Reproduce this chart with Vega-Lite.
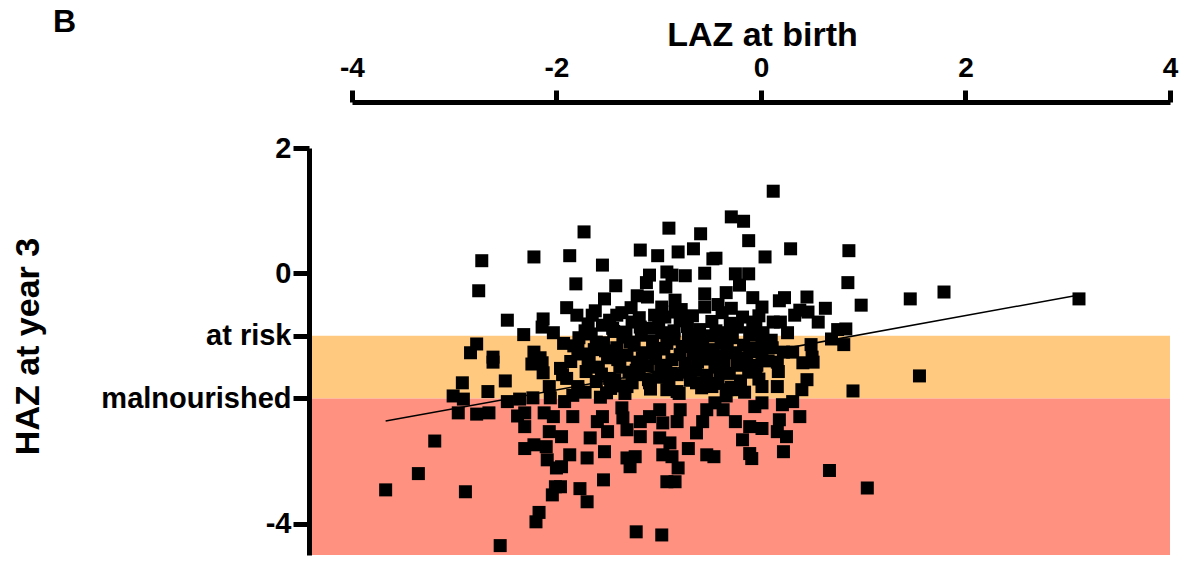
{
  "$schema": "https://vega.github.io/schema/vega-lite/v6.json",
  "autosize": {"type": "none"},
  "padding": {"left": 311, "top": 148, "right": 12, "bottom": 6},
  "width": 859,
  "height": 407,
  "background": "white",
  "config": {
    "view": {"stroke": null},
    "font": "Liberation Sans",
    "axis": {"grid": false, "domainColor": "black", "tickColor": "black", "labelColor": "black", "titleColor": "black", "labelFont": "Liberation Sans", "titleFont": "Liberation Sans", "labelFontWeight": "bold", "titleFontWeight": "bold", "labelLimit": 0}
  },
  "title": {"text": "B", "anchor": "start", "frame": "group", "fontSize": 32, "fontWeight": "bold", "font": "Liberation Sans", "color": "black", "dx": -258, "dy": 21, "offset": 0},
  "layer": [
    {
      "data": {"values": [
        {"zone": "at risk", "y": -1, "y2": -2},
        {"zone": "malnourished", "y": -2, "y2": -4.5}
      ]},
      "mark": {"type": "rect"},
      "encoding": {
        "x": {"datum": -4.4, "type": "quantitative"},
        "x2": {"datum": 4},
        "y": {"field": "y", "type": "quantitative"},
        "y2": {"field": "y2"},
        "color": {"field": "zone", "type": "nominal", "scale": {"domain": ["at risk", "malnourished"], "range": ["#FFC980", "#FF9180"]}, "legend": null}
      }
    },
    {
      "data": {"values": [
        {"x":-2.73,"y":0.20},{"x":-2.22,"y":0.26},{"x":-2.76,"y":-0.28},{"x":-2.48,"y":-0.75},{"x":-2.13,"y":-0.73},{"x":-2.14,"y":-0.86},{"x":-2.32,"y":-0.98},{"x":-2.03,"y":-0.95},{"x":-2.78,"y":-1.13},{"x":-2.84,"y":-1.27},{"x":-2.62,"y":-1.34},{"x":-2.22,"y":-1.26},{"x":-2.16,"y":-1.35},
        {"x":-1.73,"y":0.66},{"x":-0.90,"y":0.72},{"x":-0.29,"y":0.90},{"x":-0.17,"y":0.83},{"x":-0.59,"y":0.63},{"x":-0.12,"y":0.52},{"x":-1.87,"y":0.28},{"x":-1.55,"y":0.13},{"x":-1.18,"y":0.37},{"x":-1.01,"y":0.28},{"x":-0.81,"y":0.34},{"x":-0.66,"y":0.39},{"x":-0.47,"y":0.23},{"x":-0.44,"y":0.24},
        {"x":-1.81,"y":-0.17},{"x":-1.42,"y":-0.20},{"x":-1.09,"y":-0.03},{"x":-0.92,"y":0.02},{"x":-0.87,"y":-0.03},{"x":-0.74,"y":-0.04},{"x":-0.55,"y":0.00},{"x":-0.25,"y":-0.01},{"x":-0.12,"y":-0.01},{"x":-1.12,"y":-0.15},{"x":-1.21,"y":-0.36},{"x":-0.93,"y":-0.22},{"x":-1.53,"y":-0.41},{"x":-1.11,"y":-0.38},{"x":-0.84,"y":-0.43},{"x":-0.55,"y":-0.33},{"x":-0.55,"y":-0.54},{"x":-0.34,"y":-0.31},{"x":-0.21,"y":-0.19},{"x":-0.08,"y":-0.39},
        {"x":-1.90,"y":-0.55},{"x":-1.80,"y":-0.67},{"x":-1.65,"y":-0.67},{"x":-1.69,"y":-0.81},{"x":-1.36,"y":-0.63},{"x":-1.41,"y":-0.67},{"x":-0.97,"y":-0.54},{"x":-0.84,"y":-0.62},{"x":-1.19,"y":-0.71},{"x":-1.04,"y":-0.67},{"x":-0.38,"y":-0.63},{"x":-0.29,"y":-0.56},{"x":-0.79,"y":-0.76},{"x":-1.55,"y":-0.83},{"x":-1.32,"y":-0.94},{"x":-1.18,"y":-0.86},{"x":-1.00,"y":-0.79},{"x":-0.85,"y":-0.92},{"x":-0.63,"y":-1.02},{"x":-0.33,"y":-0.95},{"x":-0.23,"y":-0.86},{"x":-0.08,"y":-0.78},{"x":-0.11,"y":-0.95},{"x":-1.61,"y":-1.10},{"x":-1.79,"y":-1.22},
        {"x":0.12,"y":1.31},{"x":0.29,"y":0.39},{"x":0.04,"y":0.26},{"x":0.86,"y":0.36},{"x":0.85,"y":-0.15},{"x":0.98,"y":-0.51},{"x":1.46,"y":-0.41},{"x":1.79,"y":-0.30},{"x":0.01,"y":-0.54},{"x":0.18,"y":-0.44},{"x":0.23,"y":-0.39},{"x":0.45,"y":-0.38},{"x":0.63,"y":-0.56},{"x":0.33,"y":-0.67},{"x":0.38,"y":-0.59},{"x":0.46,"y":-0.62},{"x":0.12,"y":-0.78},{"x":0.19,"y":-0.78},{"x":0.56,"y":-0.78},{"x":0.26,"y":-0.95},{"x":0.02,"y":-0.95},{"x":0.01,"y":-1.11},{"x":0.75,"y":-0.90},{"x":0.83,"y":-0.89},{"x":0.69,"y":-1.05},{"x":0.81,"y":-1.14},{"x":0.49,"y":-1.14},{"x":0.11,"y":-1.19},{"x":0.22,"y":-1.26},{"x":0.31,"y":-1.26},{"x":0.50,"y":-1.34},{"x":3.11,"y":-0.41},
        {"x":-2.62,"y":-1.42},{"x":-2.24,"y":-1.45},{"x":-2.14,"y":-1.43},{"x":-2.13,"y":-1.59},{"x":-2.92,"y":-1.75},{"x":-2.50,"y":-1.72},{"x":-2.07,"y":-1.81},{"x":-2.06,"y":-1.99},{"x":-2.67,"y":-1.89},{"x":-3.01,"y":-1.96},{"x":-2.91,"y":-2.01},{"x":-2.36,"y":-2.01},{"x":-2.23,"y":-1.99},{"x":-2.48,"y":-2.05},{"x":-2.96,"y":-2.23},{"x":-2.78,"y":-2.25},{"x":-2.66,"y":-2.23},{"x":-2.38,"y":-2.28},{"x":-2.31,"y":-2.23},{"x":-2.12,"y":-2.23},{"x":-2.03,"y":-2.29},{"x":-2.31,"y":-2.45},{"x":-2.07,"y":-2.53},{"x":-3.19,"y":-2.68},{"x":-2.31,"y":-2.80},{"x":-2.22,"y":-2.74},{"x":-2.10,"y":-2.77},{"x":-2.09,"y":-2.98},{"x":-2.00,"y":-3.11},{"x":-3.35,"y":-3.20},{"x":-3.67,"y":-3.46},{"x":-2.89,"y":-3.49},{"x":-2.04,"y":-3.54},{"x":-2.01,"y":-3.41},{"x":-2.17,"y":-3.82},{"x":-2.20,"y":-3.97},{"x":-2.55,"y":-4.35},
        {"x":-1.94,"y":-1.62},{"x":-1.79,"y":-1.86},{"x":-1.51,"y":-1.91},{"x":-1.31,"y":-1.81},{"x":-1.09,"y":-1.75},{"x":-0.92,"y":-1.86},{"x":-0.82,"y":-1.89},{"x":-0.63,"y":-1.75},{"x":-0.48,"y":-1.81},{"x":-0.33,"y":-1.86},{"x":-0.21,"y":-1.86},{"x":-1.92,"y":-2.05},{"x":-1.84,"y":-2.29},{"x":-1.60,"y":-2.37},{"x":-1.55,"y":-2.29},{"x":-1.36,"y":-2.15},{"x":-1.35,"y":-2.31},{"x":-1.31,"y":-2.50},{"x":-1.18,"y":-2.37},{"x":-1.18,"y":-2.61},{"x":-1.09,"y":-2.29},{"x":-0.99,"y":-2.18},{"x":-0.96,"y":-2.39},{"x":-0.99,"y":-2.63},{"x":-0.82,"y":-2.37},{"x":-0.89,"y":-2.71},{"x":-0.79,"y":-2.18},{"x":-0.63,"y":-2.55},{"x":-0.53,"y":-2.18},{"x":-0.57,"y":-2.37},{"x":-0.45,"y":-2.07},{"x":-0.37,"y":-2.18},{"x":-0.25,"y":-2.37},{"x":-0.18,"y":-2.66},{"x":-0.06,"y":-2.13},{"x":-0.11,"y":-2.45},
        {"x":-1.95,"y":-2.61},{"x":-1.67,"y":-2.63},{"x":-1.50,"y":-2.53},{"x":-1.87,"y":-2.90},{"x":-1.70,"y":-2.95},{"x":-1.53,"y":-2.85},{"x":-1.31,"y":-2.95},{"x":-1.23,"y":-2.93},{"x":-1.28,"y":-3.09},{"x":-0.96,"y":-2.90},{"x":-0.87,"y":-2.93},{"x":-0.71,"y":-2.80},{"x":-0.53,"y":-2.90},{"x":-0.46,"y":-2.93},{"x":-0.11,"y":-2.88},{"x":-0.09,"y":-2.96},{"x":-1.95,"y":-3.09},{"x":-0.81,"y":-3.11},{"x":-0.92,"y":-3.33},{"x":-0.84,"y":-3.33},{"x":-1.54,"y":-3.30},{"x":-1.96,"y":-3.41},{"x":-1.77,"y":-3.44},{"x":-1.70,"y":-3.65},{"x":-1.22,"y":-4.13},{"x":-0.97,"y":-4.18},
        {"x":0.16,"y":-1.42},{"x":0.41,"y":-1.43},{"x":0.51,"y":-1.42},{"x":0.17,"y":-1.57},{"x":0.01,"y":-1.81},{"x":0.16,"y":-1.81},{"x":0.45,"y":-1.70},{"x":0.40,"y":-1.86},{"x":0.90,"y":-1.88},{"x":1.55,"y":-1.64},{"x":0.01,"y":-2.07},{"x":0.21,"y":-2.10},{"x":0.31,"y":-2.05},{"x":0.38,"y":-2.29},{"x":0.18,"y":-2.34},{"x":0.01,"y":-2.48},{"x":0.16,"y":-2.53},{"x":0.25,"y":-2.61},{"x":0.22,"y":-2.85},{"x":0.67,"y":-3.15},{"x":1.04,"y":-3.43},
        {"x":-1.93,"y":-1.12},{"x":-1.86,"y":-1.41},{"x":-1.90,"y":-1.68},{"x":-1.84,"y":-1.95},{"x":-1.78,"y":-1.03},{"x":-1.75,"y":-1.29},{"x":-1.71,"y":-1.57},{"x":-1.79,"y":-1.81},{"x":-1.66,"y":-0.97},{"x":-1.63,"y":-1.22},{"x":-1.69,"y":-1.44},{"x":-1.61,"y":-1.73},{"x":-1.57,"y":-1.98},{"x":-1.54,"y":-1.11},{"x":-1.50,"y":-1.35},{"x":-1.56,"y":-1.61},{"x":-1.47,"y":-1.84},{"x":-1.44,"y":-0.93},{"x":-1.41,"y":-1.19},{"x":-1.38,"y":-1.50},{"x":-1.43,"y":-1.70},{"x":-1.35,"y":-1.02},{"x":-1.31,"y":-1.31},{"x":-1.29,"y":-1.58},{"x":-1.33,"y":-1.92},{"x":-1.24,"y":-1.15},{"x":-1.21,"y":-1.42},{"x":-1.26,"y":-1.75},{"x":-1.17,"y":-0.99},{"x":-1.14,"y":-1.27},{"x":-1.19,"y":-1.62},{"x":-1.11,"y":-1.48},{"x":-1.08,"y":-1.85},{"x":-1.06,"y":-1.09},{"x":-1.03,"y":-1.36},{"x":-1.00,"y":-1.66},{"x":-0.97,"y":-0.95},{"x":-0.95,"y":-1.21},{"x":-0.93,"y":-1.53},{"x":-0.90,"y":-1.78},{"x":-0.87,"y":-1.38},{"x":-0.85,"y":-1.05},{"x":-0.82,"y":-1.62},{"x":-0.80,"y":-1.92},{"x":-0.77,"y":-1.17},{"x":-0.74,"y":-1.44},{"x":-0.71,"y":-0.98},{"x":-0.69,"y":-1.71},{"x":-0.66,"y":-1.28},{"x":-0.64,"y":-1.55},{"x":-0.61,"y":-1.08},{"x":-0.58,"y":-1.83},{"x":-0.55,"y":-1.37},{"x":-0.53,"y":-1.63},{"x":-0.50,"y":-1.00},{"x":-0.47,"y":-1.22},{"x":-0.45,"y":-1.50},{"x":-0.42,"y":-1.76},{"x":-0.39,"y":-1.12},{"x":-0.36,"y":-1.40},{"x":-0.34,"y":-1.96},{"x":-0.31,"y":-1.60},{"x":-0.28,"y":-1.03},{"x":-0.25,"y":-1.27},{"x":-0.23,"y":-1.47},{"x":-0.20,"y":-1.72},{"x":-0.17,"y":-1.15},{"x":-0.14,"y":-1.39},{"x":-0.12,"y":-1.58},{"x":-0.09,"y":-0.99},{"x":-0.06,"y":-1.25},{"x":-0.04,"y":-1.47},{"x":-0.02,"y":-1.69},{"x":0.03,"y":-1.18},{"x":0.07,"y":-1.40},{"x":0.10,"y":-1.07},
        {"x":-1.96,"y":-1.52},{"x":-1.83,"y":-1.16},{"x":-1.72,"y":-1.90},{"x":-1.68,"y":-1.33},{"x":-1.59,"y":-1.50},{"x":-1.52,"y":-1.24},{"x":-1.48,"y":-1.68},{"x":-1.40,"y":-1.38},{"x":-1.36,"y":-1.80},{"x":-1.28,"y":-1.10},{"x":-1.22,"y":-1.55},{"x":-1.16,"y":-1.35},{"x":-1.10,"y":-1.70},{"x":-1.04,"y":-1.20},{"x":-0.98,"y":-1.47},{"x":-0.92,"y":-1.12},{"x":-0.88,"y":-1.60},{"x":-0.79,"y":-1.30},{"x":-0.73,"y":-1.58},{"x":-0.68,"y":-1.15},{"x":-0.62,"y":-1.42},{"x":-0.57,"y":-1.20},{"x":-0.52,"y":-1.78},{"x":-0.44,"y":-1.32},{"x":-0.40,"y":-1.58},{"x":-0.33,"y":-1.22},{"x":-0.29,"y":-1.82},{"x":-0.22,"y":-1.36},{"x":-0.16,"y":-1.90},{"x":-0.11,"y":-1.20},{"x":-0.05,"y":-1.55},{"x":0.01,"y":-1.30},
        {"x":-1.72,"y":-0.92},{"x":-1.48,"y":-0.75},{"x":-1.45,"y":-0.88},{"x":-1.26,"y":-0.78},{"x":-1.08,"y":-0.88},{"x":-0.94,"y":-0.70},{"x":-0.72,"y":-0.85},{"x":-0.67,"y":-0.68},{"x":-0.60,"y":-0.90},{"x":-0.48,"y":-0.77},{"x":-0.44,"y":-0.92},{"x":-0.30,"y":-0.80},{"x":-0.18,"y":-0.70},{"x":-0.05,"y":-0.87},{"x":-1.62,"y":-0.60},{"x":-1.27,"y":-0.55},{"x":-0.78,"y":-0.58},{"x":-0.42,"y":-0.50},{"x":-0.02,"y":-0.68}
      ]},
      "mark": {"type": "point", "shape": "square", "filled": true, "color": "black", "opacity": 1, "size": 169},
      "encoding": {
        "x": {"field": "x", "type": "quantitative",
          "scale": {"domain": [-4.4, 4], "nice": false, "zero": false},
          "axis": {"orient": "top", "title": "LAZ at birth", "values": [-4, -2, 0, 2, 4], "labelExpr": "'' + datum.value", "offset": 46, "domainWidth": 5, "domainDash": [0, 41, 1000], "tickSize": 12, "tickWidth": 5, "labelPadding": 8, "labelFontSize": 28, "titleFontSize": 34, "titlePadding": 2, "titleX": 451, "labelFlush": false}},
        "y": {"field": "y", "type": "quantitative",
          "scale": {"domain": [-4.5, 2], "nice": false, "zero": false},
          "axis": {"title": "HAZ at year 3", "values": [2, 0, -1, -2, -4], "labelExpr": "datum.value == -1 ? 'at risk' : datum.value == -2 ? 'malnourished' : '' + datum.value", "offset": 2, "zindex": 1, "domainWidth": 5, "tickSize": 16, "tickWidth": 5, "labelPadding": 2, "labelFontSize": 29, "titleFontSize": 34, "titlePadding": 64, "titleY": 198, "labelFlush": false}}
      }
    },
    {
      "data": {"values": [
        {"x": -3.67, "y": -2.36},
        {"x": 3.07, "y": -0.36}
      ]},
      "mark": {"type": "line", "color": "black", "strokeWidth": 1.5},
      "encoding": {
        "x": {"field": "x", "type": "quantitative"},
        "y": {"field": "y", "type": "quantitative"}
      }
    }
  ]
}
